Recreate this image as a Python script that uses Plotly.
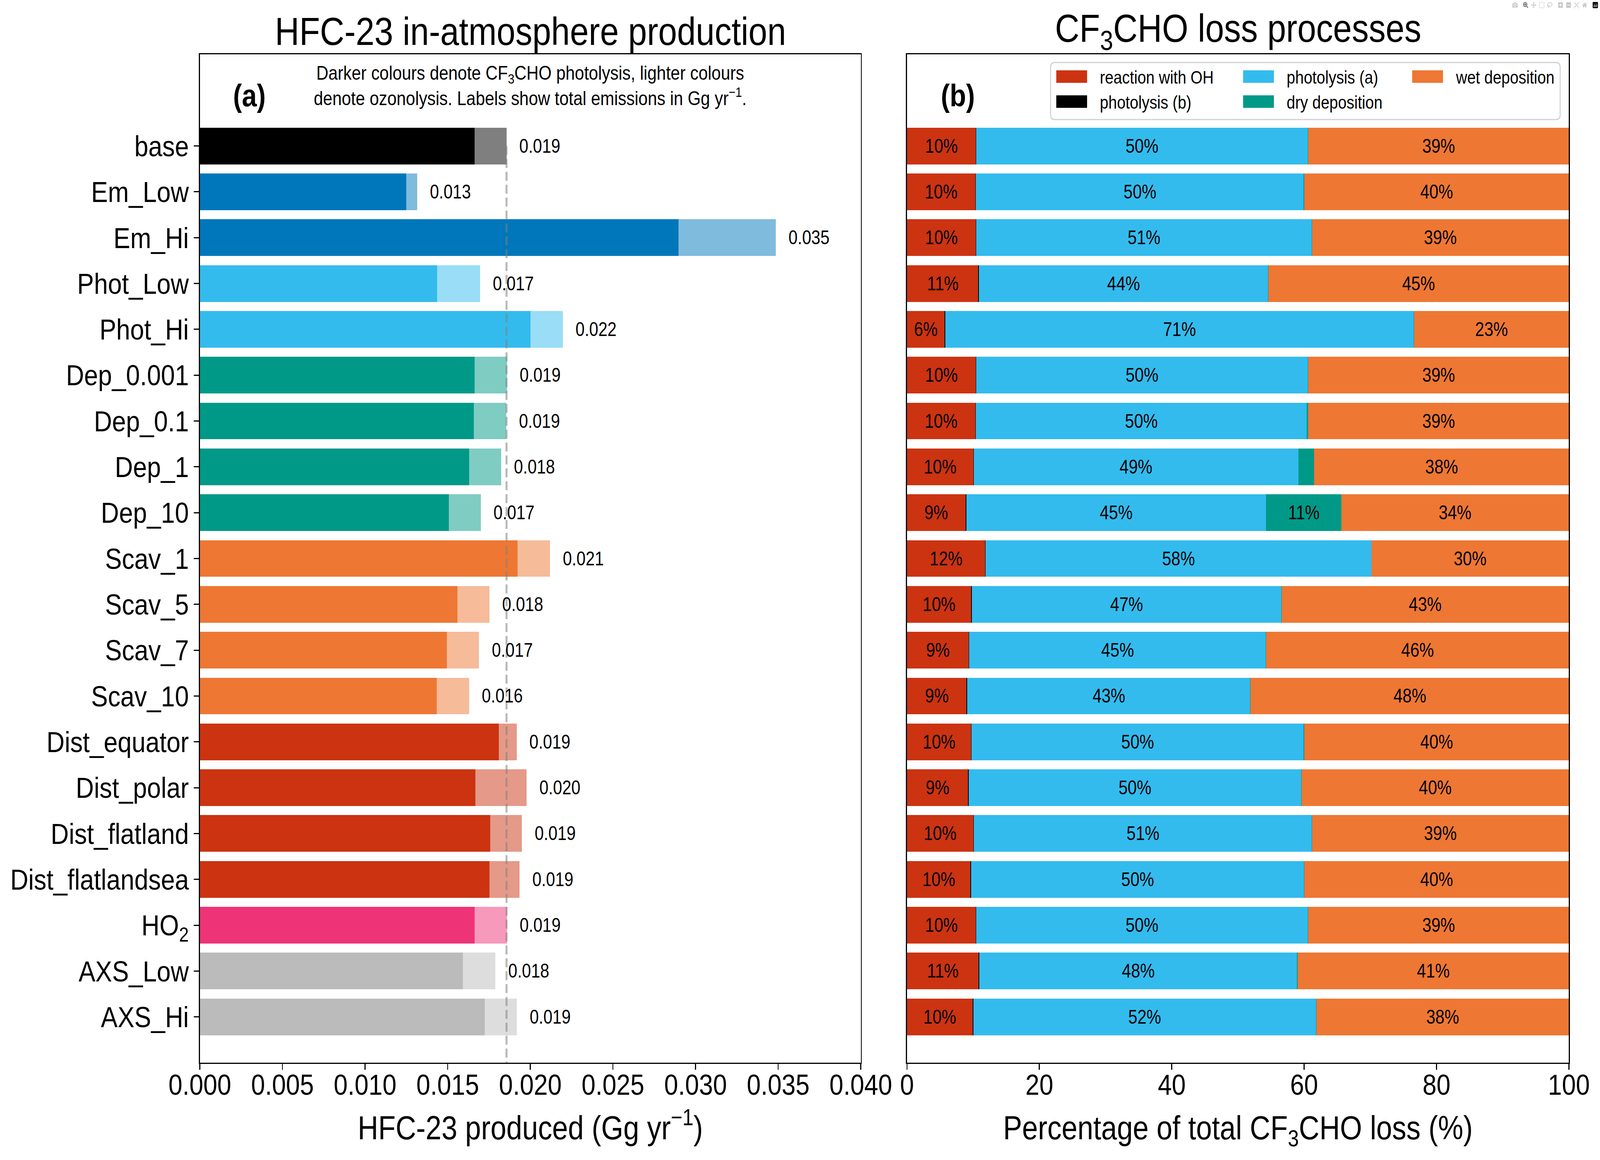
import plotly.graph_objects as go

# ---------------- data ----------------
scenarios = ["base", "Em_Low", "Em_Hi", "Phot_Low", "Phot_Hi", "Dep_0.001", "Dep_0.1",
             "Dep_1", "Dep_10", "Scav_1", "Scav_5", "Scav_7", "Scav_10", "Dist_equator",
             "Dist_polar", "Dist_flatland", "Dist_flatlandsea", "HO2", "AXS_Low", "AXS_Hi"]
scenario_labels = ["base", "Em_Low", "Em_Hi", "Phot_Low", "Phot_Hi", "Dep_0.001", "Dep_0.1",
                   "Dep_1", "Dep_10", "Scav_1", "Scav_5", "Scav_7", "Scav_10", "Dist_equator",
                   "Dist_polar", "Dist_flatland", "Dist_flatlandsea", "HO<sub>2</sub>",
                   "AXS_Low", "AXS_Hi"]
scenario_groups = ["base", "Em", "Em", "Phot", "Phot", "Dep", "Dep", "Dep", "Dep",
                   "Scav", "Scav", "Scav", "Scav", "Dist", "Dist", "Dist", "Dist",
                   "HO2", "AXS", "AXS"]

# HFC-23 produced (Gg/yr): from CF3CHO photolysis (dark) and ozonolysis (light)
hfc23_photolysis = [0.01662, 0.01248, 0.02898, 0.01437, 0.02002, 0.01662, 0.01658,
                    0.01629, 0.01506, 0.01923, 0.01558, 0.01495, 0.01433, 0.01810,
                    0.01668, 0.01757, 0.01753, 0.01662, 0.01593, 0.01724]
hfc23_ozonolysis = [0.00194, 0.00067, 0.00588, 0.00259, 0.00195, 0.00196, 0.00196,
                    0.00195, 0.00194, 0.00197, 0.00195, 0.00195, 0.00196, 0.00107,
                    0.00310, 0.00192, 0.00182, 0.00196, 0.00196, 0.00195]

# CF3CHO loss processes (% of total)
loss_oh = [10.4, 10.35, 10.4, 10.8, 5.7, 10.4, 10.35, 10.05, 8.9, 11.8, 9.75, 9.35,
           9.05, 9.7, 9.25, 10.05, 9.6, 10.4, 10.85, 9.95]
loss_phot_b = [0.07] * 20
loss_phot_a = [50.1, 49.55, 50.7, 43.7, 70.8, 50.1, 49.95, 49.0, 45.3, 58.3, 46.75, 44.8,
               42.75, 50.2, 50.25, 51.05, 50.35, 50.1, 48.05, 51.8]
loss_dry = [0.03, 0.03, 0.03, 0.03, 0.03, 0.03, 0.27, 2.4, 11.35, 0.03, 0.03, 0.03,
            0.03, 0.03, 0.03, 0.03, 0.03, 0.03, 0.03, 0.03]
loss_wet = [39.4, 40.0, 38.8, 45.4, 23.4, 39.4, 39.36, 38.48, 34.38, 29.8, 43.4, 45.75,
            48.1, 40.0, 40.4, 38.8, 39.95, 39.4, 41.0, 38.15]

loss_names = ["reaction with OH", "photolysis (b)", "photolysis (a)", "dry deposition",
              "wet deposition"]

# ---------------- styles ----------------
FONT = "Liberation Sans"
W, H = 4779, 2969
group_rgb = {"base": (0, 0, 0), "Em": (0, 119, 187), "Phot": (51, 187, 238),
             "Dep": (0, 153, 136), "Scav": (238, 119, 51), "Dist": (204, 51, 17),
             "HO2": (238, 51, 119), "AXS": (187, 187, 187)}
dark_colors = ["rgb(%d,%d,%d)" % group_rgb[g] for g in scenario_groups]
light_colors = ["rgba(%d,%d,%d,0.5)" % group_rgb[g] for g in scenario_groups]
loss_colors = ["#CC3311", "#000000", "#33BBEE", "#009988", "#EE7733"]

def py(px):
    return 1 - px / H

def pxx(px):
    return px / W

xl0, xl1 = 597, 2571
xr0, xr1 = 2709, 4686
ytop, ybot = 139, 2720
ydom = [py(ybot), py(ytop)]

fig = go.Figure()

# Left panel bars
fig.add_trace(go.Bar(y=scenarios, x=hfc23_photolysis, orientation="h", width=0.8,
                     marker=dict(color=dark_colors, line=dict(width=0)),
                     xaxis="x", yaxis="y", showlegend=False, name="photolysis"))
fig.add_trace(go.Bar(y=scenarios, x=hfc23_ozonolysis, orientation="h", width=0.8,
                     marker=dict(color=light_colors, line=dict(width=0)),
                     xaxis="x", yaxis="y", showlegend=False, name="ozonolysis"))

# Right panel bars
loss_series = [loss_oh, loss_phot_b, loss_phot_a, loss_dry, loss_wet]
for name, vals, col in zip(loss_names, loss_series, loss_colors):
    fig.add_trace(go.Bar(y=scenarios, x=vals, orientation="h", width=0.8,
                         marker=dict(color=col, line=dict(width=0)),
                         xaxis="x2", yaxis="y2", showlegend=False, name=name))

annotations = []
# total labels
totals = [a + b for a, b in zip(hfc23_photolysis, hfc23_ozonolysis)]
for s, t in zip(scenarios, totals):
    annotations.append(dict(x=t, y=s, xref="x", yref="y", text="%.3f" % t,
                            showarrow=False, xanchor="left", yanchor="middle",
                            xshift=36, font=dict(size=49, color="black", family=FONT)))
# percentage labels
for i, s in enumerate(scenarios):
    left = 0.0
    for vals in loss_series:
        v = vals[i]
        if v >= 3:
            annotations.append(dict(x=left + v / 2, y=s, xref="x2", yref="y2",
                                    text="%d%%" % round(v), showarrow=False,
                                    xanchor="center", yanchor="middle",
                                    font=dict(size=49, color="black", family=FONT)))
        left += v

# subplot titles
annotations.append(dict(x=pxx((xl0 + xl1) / 2), y=py(80), xref="paper", yref="paper",
                        text="HFC-23 in-atmosphere production", showarrow=False,
                        xanchor="center", yanchor="middle",
                        font=dict(size=101, color="black", family=FONT)))
annotations.append(dict(x=pxx((xr0 + xr1) / 2), y=py(80), xref="paper", yref="paper",
                        text="CF<sub>3</sub>CHO loss processes", showarrow=False,
                        xanchor="center", yanchor="middle",
                        font=dict(size=101, color="black", family=FONT)))
# panel letters
annotations.append(dict(x=pxx(xl0 + 148), y=py(245), xref="paper", yref="paper",
                        text="<b>(a)</b>", showarrow=False, xanchor="center",
                        yanchor="middle", font=dict(size=80, color="black", family=FONT)))
annotations.append(dict(x=pxx(xr0 + 152), y=py(245), xref="paper", yref="paper",
                        text="<b>(b)</b>", showarrow=False, xanchor="center",
                        yanchor="middle", font=dict(size=80, color="black", family=FONT)))
# note
annotations.append(dict(x=pxx(1583), y=py(220), xref="paper", yref="paper",
                        text="Darker colours denote CF<sub>3</sub>CHO photolysis, lighter colours<br>"
                             "denote ozonolysis. Labels show total emissions in Gg yr<sup>\u22121</sup>.",
                        showarrow=False, xanchor="center", yanchor="middle", align="center",
                        font=dict(size=50, color="black", family=FONT)))

# legend drawn as a 3-column box (matplotlib-like large swatches)
shapes = []
lx0, lx1, ly0, ly1 = 3138, 4660, 160, 306
r = 12
path = ("M %f,%f L %f,%f Q %f,%f %f,%f L %f,%f Q %f,%f %f,%f L %f,%f Q %f,%f %f,%f "
        "L %f,%f Q %f,%f %f,%f Z") % (
    pxx(lx0 + r), py(ly0), pxx(lx1 - r), py(ly0), pxx(lx1), py(ly0), pxx(lx1), py(ly0 + r),
    pxx(lx1), py(ly1 - r), pxx(lx1), py(ly1), pxx(lx1 - r), py(ly1),
    pxx(lx0 + r), py(ly1), pxx(lx0), py(ly1), pxx(lx0), py(ly1 - r),
    pxx(lx0), py(ly0 + r), pxx(lx0), py(ly0), pxx(lx0 + r), py(ly0))
shapes.append(dict(type="path", path=path, xref="paper", yref="paper",
                   line=dict(color="#d0d0d0", width=3), fillcolor="rgba(255,255,255,0.8)",
                   layer="above"))
legend_cols = [3155, 3713, 4218]
legend_rows = [196, 260]
legend_slots = {"reaction with OH": (0, 0), "photolysis (b)": (0, 1),
                "photolysis (a)": (1, 0), "dry deposition": (1, 1),
                "wet deposition": (2, 0)}
for name, col in zip(loss_names, loss_colors):
    c, rr = legend_slots[name]
    x0 = legend_cols[c]
    yc = legend_rows[rr]
    shapes.append(dict(type="rect", xref="paper", yref="paper",
                       x0=pxx(x0), x1=pxx(x0 + 92), y0=py(yc - 16), y1=py(yc + 16),
                       fillcolor=col, line=dict(width=0), layer="above"))
    annotations.append(dict(x=pxx(x0 + 128), y=py(yc + 2), xref="paper", yref="paper",
                            text=name, showarrow=False, xanchor="left", yanchor="middle",
                            font=dict(size=46, color="black", family=FONT)))

# reference dashed line at base total
shapes.append(dict(type="line", xref="x", yref="y", x0=totals[0], x1=totals[0],
                   y0=0, y1=len(scenarios), layer="above",
                   line=dict(color="rgba(128,128,128,0.55)", width=6, dash="23px,10px")))

axis_common = dict(showline=True, linecolor="black", linewidth=3, mirror=True,
                   showgrid=False, zeroline=False, automargin=False,
                   ticks="outside", ticklen=15, tickwidth=3, tickcolor="black",
                   tickfont=dict(size=75, color="black", family=FONT))

fig.update_layout(
    width=W, height=H,
    margin=dict(l=0, r=0, t=0, b=0),
    paper_bgcolor="white", plot_bgcolor="white",
    barmode="stack", bargap=0.2,
    font=dict(family=FONT, color="black"),
    showlegend=False,
    xaxis=dict(domain=[pxx(xl0), pxx(xl1)], range=[0, 0.04], dtick=0.005, tick0=0,
               tickformat=".3f", anchor="y", ticklabelstandoff=-26,
               title=dict(text="HFC-23 produced (Gg yr<sup>\u22121</sup>)",
                          font=dict(size=85, color="black", family=FONT), standoff=40),
               **axis_common),
    yaxis=dict(domain=ydom, type="category", categoryorder="array",
               categoryarray=scenarios, range=[len(scenarios), -2], anchor="x",
               tickmode="array", tickvals=scenarios, ticktext=scenario_labels,
               **axis_common),
    xaxis2=dict(domain=[pxx(xr0), pxx(xr1)], range=[0, 100], dtick=20, tick0=0,
                anchor="y2", ticklabelstandoff=-26,
                title=dict(text="Percentage of total CF<sub>3</sub>CHO loss (%)",
                           font=dict(size=85, color="black", family=FONT), standoff=40),
                **axis_common),
    yaxis2=dict(domain=ydom, type="category", categoryorder="array",
                categoryarray=scenarios, range=[len(scenarios), -2], anchor="x2",
                showticklabels=False,
                **{k: v for k, v in axis_common.items() if k not in ("ticks",)}, ticks=""),
    annotations=annotations,
    shapes=shapes,
)

# The browser viewport may be narrower than 4779 px (it is clamped); fit the
# 4779x2969 figure exactly into whatever viewport is available.
fit_script = """
var gd = document.getElementById('{plot_id}');
document.documentElement.style.margin = '0';
document.body.style.margin = '0';
document.documentElement.style.overflow = 'hidden';
document.body.style.overflow = 'hidden';
function fitFigure() {
  var sx = window.innerWidth / %d;
  var sy = window.innerHeight / %d;
  gd.style.position = 'absolute';
  gd.style.left = '0px';
  gd.style.top = '0px';
  gd.style.transformOrigin = '0 0';
  gd.style.transform = 'scale(' + sx + ',' + sy + ')';
}
fitFigure();
window.addEventListener('resize', fitFigure);
""" % (W, H)

fig.write_html("out.html", post_script=fit_script)
